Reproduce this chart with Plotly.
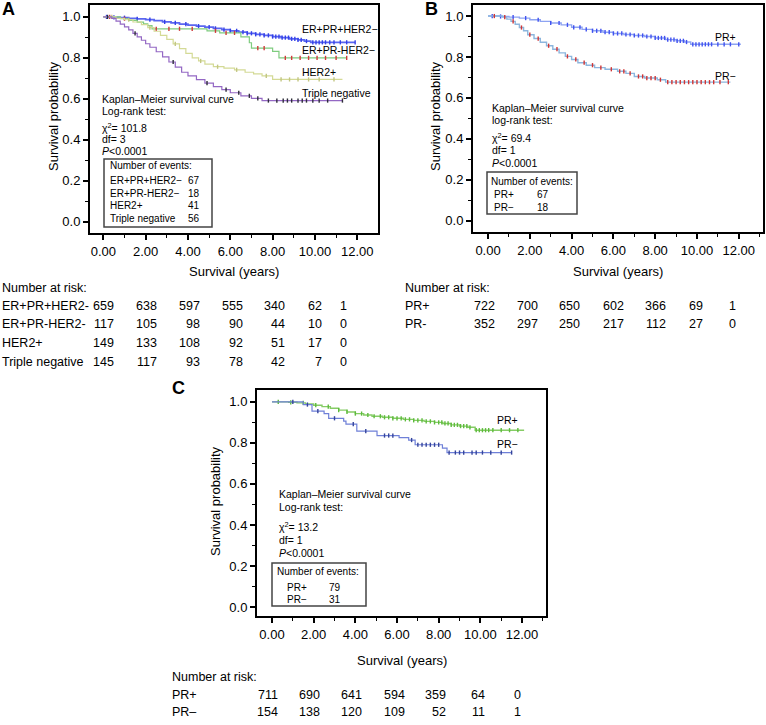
import plotly.graph_objects as go

W, H = 766, 725
FONT = "Liberation Sans, Arial, Helvetica, sans-serif"

# ---------------- Panel A data ----------------
A_names = ["ER+PR+HER2−", "ER+PR-HER2−", "HER2+", "Triple negative"]
A1_t = [0, 0.4, 0.8, 1.2, 1.6, 2.0, 2.4, 2.8, 3.2, 3.6, 4.0, 4.4, 4.8, 5.2, 5.6, 6.0, 6.4, 6.8, 7.2, 7.6, 8.0, 8.4, 8.8, 9.2, 9.5, 9.8, 11.9]
A1_s = [1.0, 0.998, 0.996, 0.993, 0.99, 0.987, 0.982, 0.976, 0.971, 0.965, 0.96, 0.955, 0.95, 0.944, 0.938, 0.932, 0.926, 0.92, 0.915, 0.91, 0.904, 0.899, 0.893, 0.888, 0.882, 0.876, 0.876]
A1_c = [0.15, 0.5, 1.0, 1.6, 2.2, 2.9, 3.4, 3.9, 4.5, 5.0, 5.3, 5.7, 6.0, 6.3, 6.6, 6.8, 7.0, 7.2, 7.4, 7.6, 7.8, 8.0, 8.15, 8.3, 8.45, 8.6, 8.75, 8.9, 9.05, 9.2, 9.35, 9.6, 9.9, 10.05, 10.2, 10.35, 10.5, 10.7, 10.9, 11.2, 11.5, 11.9]

A2_t = [0, 0.8, 1.2, 1.6, 1.9, 2.1, 2.3, 4.9, 5.5, 6.5, 6.9, 7.0, 8.0, 8.3, 11.5]
A2_s = [1.0, 0.991, 0.983, 0.974, 0.966, 0.957, 0.942, 0.932, 0.922, 0.903, 0.874, 0.848, 0.832, 0.80, 0.80]
A2_c = [0.3, 1.0, 2.5, 3.1, 3.6, 4.2, 5.3, 5.8, 6.2, 7.3, 7.6, 8.6, 8.9, 9.3, 9.7, 10.1, 10.5, 11.0, 11.5]

A3_t = [0, 0.6, 1.0, 1.4, 1.8, 2.1, 2.4, 2.7, 3.0, 3.3, 3.6, 3.9, 4.2, 4.5, 4.8, 5.2, 5.7, 6.2, 6.7, 7.1, 7.5, 8.0, 11.3]
A3_s = [1.0, 0.993, 0.986, 0.975, 0.962, 0.948, 0.93, 0.91, 0.89, 0.868, 0.845, 0.822, 0.8, 0.785, 0.77, 0.757, 0.75, 0.742, 0.73, 0.722, 0.712, 0.695, 0.695]
A3_c = [0.4, 1.2, 2.2, 3.4, 4.6, 5.4, 6.3, 7.7, 8.4, 8.8, 9.2, 9.7, 10.2, 10.9]

A4_t = [0, 0.4, 0.6, 0.8, 1.0, 1.2, 1.4, 1.6, 1.8, 2.0, 2.2, 2.5, 2.8, 3.1, 3.4, 3.7, 4.0, 4.4, 4.8, 5.2, 5.6, 6.0, 6.5, 7.0, 7.5, 11.3]
A4_s = [1.0, 0.993, 0.979, 0.965, 0.951, 0.937, 0.92, 0.903, 0.886, 0.869, 0.852, 0.83, 0.805, 0.78, 0.755, 0.73, 0.712, 0.694, 0.677, 0.66, 0.645, 0.63, 0.615, 0.603, 0.592, 0.592]
A4_c = [0.2, 1.5, 3.3, 4.9, 5.8, 6.4, 6.9, 7.3, 7.8, 8.2, 8.5, 8.7, 8.9, 9.2, 9.4, 9.6, 9.9, 10.2, 10.6, 11.3]

A_events = [67, 18, 41, 56]
A_risk_labels = ["ER+PR+HER2-", "ER+PR-HER2-", "HER2+", "Triple negative"]
A_risk_1 = [659, 638, 597, 555, 340, 62, 1]
A_risk_2 = [117, 105, 98, 90, 44, 10, 0]
A_risk_3 = [149, 133, 108, 92, 51, 17, 0]
A_risk_4 = [145, 117, 93, 78, 42, 7, 0]
A_stats = ["Kaplan–Meier survival curve", "Log-rank test:", "χ<sup>2</sup>= 101.8", "df= 3", "<i>P</i><0.0001"]

# ---------------- Panel B data ----------------
B_names = ["PR+", "PR−"]
B1_t = [0, 0.6, 1.0, 1.5, 2.0, 2.5, 3.0, 3.5, 4.0, 4.5, 5.0, 5.5, 6.0, 6.5, 7.0, 7.5, 8.0, 8.5, 9.0, 9.4, 9.7, 12.1]
B1_s = [1.0, 0.998, 0.995, 0.99, 0.982, 0.974, 0.966, 0.957, 0.945, 0.935, 0.928, 0.921, 0.915, 0.91, 0.905, 0.9, 0.893, 0.885, 0.879, 0.873, 0.862, 0.862]
B1_c = [0.2, 0.6, 1.2, 1.8, 2.4, 3.0, 3.4, 3.8, 4.1, 4.4, 4.7, 5.0, 5.2, 5.4, 5.6, 5.8, 6.0, 6.2, 6.4, 6.6, 6.8, 7.0, 7.2, 7.4, 7.6, 7.8, 8.0, 8.15, 8.3, 8.45, 8.6, 8.75, 8.9, 9.05, 9.2, 9.35, 9.5, 9.8, 9.95, 10.1, 10.25, 10.4, 10.55, 10.7, 11.0, 11.3, 11.6, 12.0]
B2_t = [0, 0.7, 0.9, 1.1, 1.3, 1.5, 1.7, 1.9, 2.2, 2.5, 2.8, 3.1, 3.4, 3.7, 4.0, 4.3, 4.7, 5.1, 5.6, 6.2, 6.6, 7.0, 7.5, 8.1, 8.5, 11.6]
B2_s = [1.0, 0.995, 0.985, 0.974, 0.96, 0.944, 0.928, 0.909, 0.89, 0.872, 0.855, 0.838, 0.82, 0.803, 0.788, 0.772, 0.76, 0.748, 0.74, 0.73, 0.72, 0.705, 0.697, 0.689, 0.677, 0.677]
B2_c = [0.3, 0.8, 1.2, 1.6, 2.0, 2.4, 2.9, 3.3, 3.8, 4.2, 4.6, 5.0, 5.4, 5.9, 6.3, 6.5, 6.8, 7.2, 7.4, 7.6, 7.8, 8.0, 8.25, 8.6, 8.8, 9.0, 9.2, 9.4, 9.6, 9.8, 10.0, 10.2, 10.4, 10.6, 10.8, 11.1, 11.5]
B_events = [67, 18]
B_risk_labels = ["PR+", "PR-"]
B_risk_1 = [722, 700, 650, 602, 366, 69, 1]
B_risk_2 = [352, 297, 250, 217, 112, 27, 0]
B_stats = ["Kaplan–Meier survival curve", "log-rank test:", "χ<sup>2</sup>= 69.4", "df= 1", "<i>P</i><0.0001"]

# ---------------- Panel C data ----------------
C_names = ["PR+", "PR−"]
C1_t = [0, 0.8, 1.2, 1.6, 2.0, 2.4, 2.8, 3.2, 3.6, 4.0, 4.4, 4.8, 5.3, 5.8, 6.3, 6.8, 7.3, 7.8, 8.2, 8.6, 9.0, 9.4, 9.75, 12.1]
C1_s = [1.0, 0.998, 0.995, 0.99, 0.984, 0.977, 0.969, 0.96, 0.951, 0.943, 0.936, 0.93, 0.925, 0.92, 0.915, 0.91, 0.905, 0.9, 0.895, 0.888, 0.882, 0.876, 0.862, 0.862]
C1_c = [0.3, 0.9, 1.5, 2.1, 2.7, 3.2, 3.6, 4.0, 4.3, 4.6, 4.9, 5.2, 5.4, 5.6, 5.8, 6.0, 6.2, 6.4, 6.6, 6.8, 7.0, 7.2, 7.4, 7.6, 7.8, 8.0, 8.15, 8.3, 8.45, 8.6, 8.75, 8.9, 9.05, 9.2, 9.35, 9.5, 9.8, 9.95, 10.1, 10.25, 10.4, 10.6, 11.0, 11.4, 11.8]
C2_t = [0, 1.5, 1.92, 2.5, 2.72, 3.44, 3.55, 4.07, 5.04, 6.1, 6.56, 6.87, 8.18, 8.4, 11.5]
C2_s = [1.0, 0.987, 0.955, 0.943, 0.92, 0.906, 0.892, 0.857, 0.836, 0.826, 0.814, 0.791, 0.775, 0.753, 0.753]
C2_c = [1.0, 1.7, 2.2, 3.0, 3.9, 4.5, 5.4, 5.6, 5.8, 6.7, 7.0, 7.2, 7.4, 7.6, 7.8, 8.0, 8.5, 8.8, 9.0, 9.2, 9.6, 9.8, 10.1, 10.5, 11.0, 11.5]
C_events = [79, 31]
C_risk_labels = ["PR+", "PR–"]
C_risk_1 = [711, 690, 641, 594, 359, 64, 0]
C_risk_2 = [154, 138, 120, 109, 52, 11, 1]
C_stats = ["Kaplan–Meier survival curve", "Log-rank test:", "χ<sup>2</sup>= 13.2", "df= 1", "<i>P</i><0.0001"]

risk_times = [0, 2, 4, 6, 8, 10, 12]


def px_x(p):
    return p / W


def px_y(p):
    return 1 - p / H


def step_at(ts, ss, c):
    y = ss[0]
    for t, s in zip(ts, ss):
        if t <= c:
            y = s
    return y


fig = go.Figure()


def add_curve(ts, ss, cs, line_col, mark_col, xa, ya, lw=1.2):
    fig.add_trace(go.Scatter(x=ts, y=ss, mode="lines", line=dict(color=line_col, width=lw, shape="hv"),
                             xaxis=xa, yaxis=ya, showlegend=False, hoverinfo="skip"))
    fig.add_trace(go.Scatter(x=cs, y=[step_at(ts, ss, c) for c in cs], mode="markers",
                             marker=dict(symbol="line-ns", size=3, line=dict(color=mark_col, width=1.4)),
                             xaxis=xa, yaxis=ya, showlegend=False, hoverinfo="skip"))


# Panel A
add_curve(A1_t, A1_s, A1_c, "#5a66f0", "#3340e8", "x", "y", lw=1.7)
add_curve(A2_t, A2_s, A2_c, "#7fcc7f", "#d03a3a", "x", "y")
add_curve(A3_t, A3_s, A3_c, "#d4da96", "#c2c680", "x", "y")
add_curve(A4_t, A4_s, A4_c, "#9468c4", "#2e2e3a", "x", "y")
# Panel B
add_curve(B1_t, B1_s, B1_c, "#8ea4f2", "#4152f0", "x2", "y2", lw=1.4)
add_curve(B2_t, B2_s, B2_c, "#8cb6de", "#d03434", "x2", "y2", lw=1.4)
# Panel C
add_curve(C1_t, C1_s, C1_c, "#86cc66", "#5dbb3c", "x3", "y3", lw=1.4)
add_curve(C2_t, C2_s, C2_c, "#6f80d8", "#34449c", "x3", "y3")


def xax(domain, rng):
    return dict(domain=domain, range=rng, showline=True, mirror=True, linecolor="black", linewidth=2,
                ticks="outside", ticklen=5, tickwidth=1.6, tickcolor="black",
                tickvals=[0, 2, 4, 6, 8, 10, 12], tickformat=".2f",
                minor=dict(dtick=1, tick0=0, ticks="outside", ticklen=3, tickwidth=1.2, tickcolor="black"),
                showgrid=False, zeroline=False, tickfont=dict(size=13, color="black", family=FONT))


def yax(domain, rng, anchor):
    return dict(domain=domain, range=rng, anchor=anchor, showline=True, mirror=True, linecolor="black", linewidth=2,
                ticks="outside", ticklen=5, tickwidth=1.6, tickcolor="black",
                tickvals=[0, 0.2, 0.4, 0.6, 0.8, 1.0], tickformat=".1f",
                minor=dict(dtick=0.1, tick0=0, ticks="outside", ticklen=3, tickwidth=1.2, tickcolor="black"),
                showgrid=False, zeroline=False, tickfont=dict(size=13, color="black", family=FONT))


xa1 = xax([px_x(90), px_x(378)], [-0.63, 12.98]); xa1["anchor"] = "y"
ya1 = yax([px_y(233), px_y(5)], [-0.054, 1.058], "x")
xa2 = xax([px_x(473), px_x(763)], [-0.72, 13.16]); xa2["anchor"] = "y2"
ya2 = yax([px_y(232), px_y(5)], [-0.055, 1.054], "x2")
xa3 = xax([px_x(257), px_x(546)], [-0.72, 13.15]); xa3["anchor"] = "y3"
ya3 = yax([px_y(616), px_y(390)], [-0.044, 1.058], "x3")

ann = []
shapes = []


def text(x, y, s, size=10.5, anchor="left", xref="paper", xshift=0, bold=False, angle=0):
    ann.append(dict(x=x, y=y, xref=xref, yref="paper", text=("<b>%s</b>" % s) if bold else s,
                    showarrow=False, xanchor=anchor, yanchor="middle", xshift=xshift, textangle=angle,
                    font=dict(size=size, color="black", family=FONT)))


# panel letters
text(px_x(0), px_y(9), "A", size=18, bold=True)
text(px_x(423), px_y(9), "B", size=18, bold=True)
text(px_x(170), px_y(388), "C", size=18, bold=True)

# axis titles
for xd, xc, yc in [("x domain", 0.5, 272), ("x2 domain", 0.5, 272), ("x3 domain", 0.5, 660)]:
    text(xc, px_y(yc), "Survival (years)", size=13, anchor="center", xref=xd)
for xp, yp in [(53, 116), (435, 116), (215, 501)]:
    text(px_x(xp), px_y(yp), "Survival probability", size=13, anchor="center", angle=-90)

# curve labels
for name, yp in zip(A_names, [29, 50, 72, 93]):
    text(px_x(300), px_y(yp), name, size=10.5)
for name, yp in zip(B_names, [37, 76]):
    text(px_x(738), px_y(yp), name, size=10.5, anchor="right")
for name, yp in zip(C_names, [420, 444]):
    text(px_x(495), px_y(yp), name, size=10.5)

# stats text
for s, yp in zip(A_stats, [99, 111, 127, 139, 151]):
    text(px_x(100), px_y(yp), s, size=10.5)
for s, yp in zip(B_stats, [108, 120, 137, 150, 163]):
    text(px_x(490), px_y(yp), s, size=10.5)
for s, yp in zip(C_stats, [494, 507, 526, 540, 553]):
    text(px_x(277), px_y(yp), s, size=10.5)

# events boxes
box_style = dict(type="rect", xref="paper", yref="paper", line=dict(color="#444444", width=1.5), fillcolor="rgba(0,0,0,0)")
shapes.append(dict(box_style, x0=px_x(104), x1=px_x(212), y0=px_y(227), y1=px_y(159)))
shapes.append(dict(box_style, x0=px_x(487), x1=px_x(577), y0=px_y(214), y1=px_y(172)))
shapes.append(dict(box_style, x0=px_x(272), x1=px_x(366), y0=px_y(606), y1=px_y(563)))

text(px_x(108), px_y(165), "Number of events:", size=10)
for name, ev, yp in zip(A_names, A_events, [180, 193, 206, 218]):
    text(px_x(108), px_y(yp), name, size=10)
    text(px_x(202), px_y(yp), str(ev), size=10, anchor="right")
text(px_x(489), px_y(181), "Number of events:", size=10)
for name, ev, yp in zip(B_names, B_events, [194, 207]):
    text(px_x(492), px_y(yp), name, size=10)
    text(px_x(535), px_y(yp), str(ev), size=10)
text(px_x(275), px_y(571), "Number of events:", size=10)
for name, ev, yp in zip(C_names, C_events, [587, 599]):
    text(px_x(285), px_y(yp), name, size=10)
    text(px_x(327), px_y(yp), str(ev), size=10)

# number at risk tables
RS = 12.5
text(px_x(0), px_y(288), "Number at risk:", size=RS)
A_shift = [13, 13, 14, 15, 14, 9, -8]
for lab, row, yp in zip(A_risk_labels, [A_risk_1, A_risk_2, A_risk_3, A_risk_4], [306, 324, 343, 362]):
    text(px_x(0), px_y(yp), lab, size=RS)
    for t, v, sh in zip(risk_times, row, A_shift):
        text(t, px_y(yp), str(v), size=RS, anchor="right", xref="x", xshift=sh)

text(px_x(403), px_y(288), "Number at risk:", size=RS)
B_shift = [9, 10, 10, 13, 13, 8, -1]
for lab, row, yp in zip(B_risk_labels, [B_risk_1, B_risk_2], [306, 324]):
    text(px_x(403), px_y(yp), lab, size=RS)
    for t, v, sh in zip(risk_times, row, B_shift):
        text(t, px_y(yp), str(v), size=RS, anchor="right", xref="x2", xshift=sh)

text(px_x(170), px_y(677), "Number at risk:", size=RS)
C_shift = [8, 8, 9, 10, 9, 7, 1]
for lab, row, yp in zip(C_risk_labels, [C_risk_1, C_risk_2], [695, 712]):
    text(px_x(170), px_y(yp), lab, size=RS)
    for t, v, sh in zip(risk_times, row, C_shift):
        text(t, px_y(yp), str(v), size=RS, anchor="right", xref="x3", xshift=sh)

fig.update_layout(
    width=W, height=H, autosize=False,
    margin=dict(l=0, r=0, t=0, b=0),
    paper_bgcolor="white", plot_bgcolor="white",
    font=dict(family=FONT, color="black"),
    xaxis=xa1, yaxis=ya1, xaxis2=xa2, yaxis2=ya2, xaxis3=xa3, yaxis3=ya3,
    annotations=ann, shapes=shapes, showlegend=False,
)

fig.write_html("out.html", config={"displayModeBar": False},
               post_script="document.body.style.margin='0px';document.body.style.overflow='hidden';")
